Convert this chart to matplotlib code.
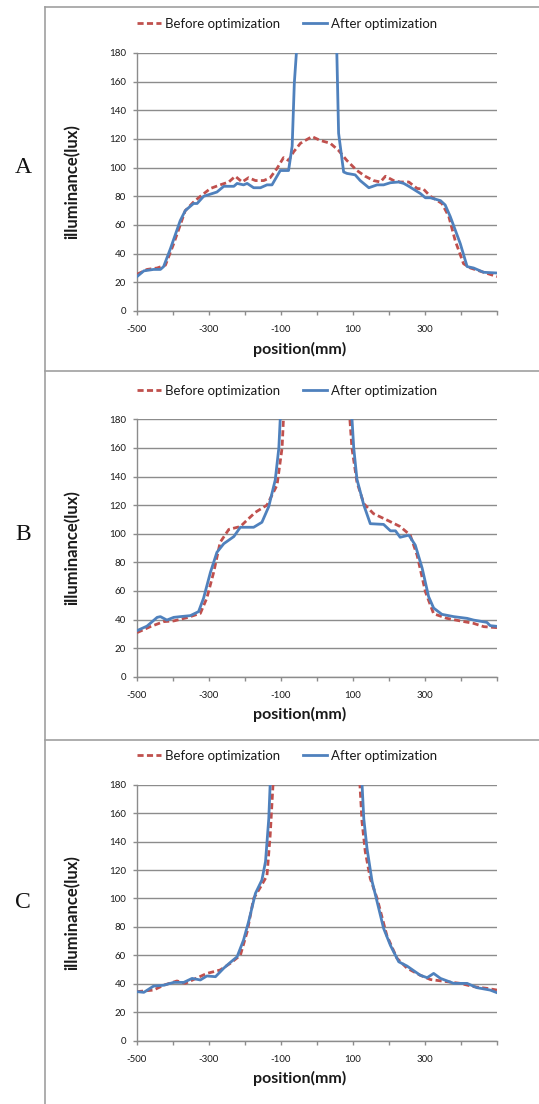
import matplotlib
matplotlib.use("Agg")
import matplotlib.pyplot as plt
from matplotlib.lines import Line2D
import numpy as np

# ---------------- data ----------------
# Panel A
a_after_x = [-500, -481, -454, -435, -426, -407, -380, -366, -343, -333, -315, -278, -259, -231, -222,
             -204, -194, -176, -157, -139, -125, -102, -79, -69, -63, -57, -55, 0, 53, 55, 60, 74, 83,
             106, 120, 144, 167, 185, 204, 227, 241, 255, 287, 301, 315, 343, 356, 370, 398, 417,
             435, 463, 500]
a_after_y = [24, 28, 29, 29, 31, 43.6, 63, 70, 75, 75, 80, 83, 87, 87, 89,
             88, 89, 86, 86, 88, 88, 98, 98, 115, 159, 181, 350, 400, 350, 181, 124, 97, 96,
             95, 91, 86, 88, 88, 89.5, 90, 89, 87, 82, 79, 79, 77, 74, 66, 47, 31,
             30, 27, 26.5]
a_before_x = [-500, -472, -444, -421, -398, -366, -343, -324, -296, -269, -245, -227, -208, -190, -171,
              -148, -130, -111, -93, -79, -65, -46, -14, 9, 37, 60, 83, 111, 134, 157, 176, 190,
              213, 231, 255, 278, 296, 315, 347, 366, 384, 407, 426, 463, 500]
a_before_y = [25.6, 29, 30, 32, 47, 70, 76, 80, 85.5, 88, 90, 94, 90, 93, 91,
              91, 93, 99.5, 107, 105, 111, 117, 121.7, 119, 117, 112, 105, 98, 94, 91, 90, 94,
              91, 90, 90, 85.5, 85, 80, 75, 66, 49, 33, 30, 27, 24]

# Panel B
b_after_x = [-500, -472, -444, -435, -417, -398, -380, -352, -329, -315, -296, -278, -259, -231, -213,
             -176, -153, -134, -116, -106, -102, -95, 0, 93, 97, 102, 111, 130, 148, 185, 204, 218,
             231, 255, 273, 292, 310, 324, 347, 380, 417, 435, 472, 481, 500]
b_after_y = [32.2, 35.4, 41.5, 42, 39.6, 41.5, 42, 42.7, 45.5, 55, 73, 87, 93, 98, 104.5,
             104.5, 108, 119, 137.6, 160, 181, 400, 450, 400, 181, 160, 138, 120, 107, 106.5, 102, 102,
             97.5, 99, 92, 76, 56, 48, 43.6, 42, 40.8, 39.6, 38, 35.7, 35.2]
b_before_x = [-500, -463, -426, -398, -361, -324, -306, -287, -269, -245, -213, -194, -171, -139, -111,
              -97, -93, -87, 0, 85, 91, 97, 111, 130, 157, 194, 231, 259, 278, 301, 324, 361,
              398, 435, 463, 500]
b_before_y = [30.8, 35, 38.5, 39, 41.3, 44.3, 55, 73, 94, 103, 105, 109.6, 115, 120, 134,
              160, 181, 400, 450, 400, 181, 160, 136, 121, 114, 109.6, 105, 99, 85, 59.5, 44, 40.8,
              39, 37.3, 35, 34.3]

# Panel C
c_after_x = [-500, -481, -454, -426, -398, -370, -347, -324, -306, -282, -259, -241, -222, -204, -190,
             -171, -153, -143, -134, -130, -124, 0, 119, 125, 130, 139, 153, 167, 185, 204, 227,
             250, 287, 306, 324, 343, 380, 417, 444, 481, 500]
c_after_y = [34.5, 34, 38.4, 39, 41, 41, 43.8, 42.7, 45.5, 45, 51, 55, 59, 70.8, 83.7,
             103.6, 113, 126, 156, 181, 400, 450, 400, 181, 156, 135, 112, 97.7, 79, 67, 55.5,
             52.5, 46, 44.3, 47.3, 43.8, 40.3, 40.3, 37.3, 35.6, 33.75]
c_before_x = [-500, -454, -426, -389, -366, -343, -306, -269, -241, -213, -194, -176, -157, -139, -130,
              -122, -116, 0, 113, 119, 125, 134, 148, 167, 194, 222, 250, 287, 315, 361, 398,
              435, 472, 500]
c_before_y = [34.5, 35.6, 39, 42, 40.3, 43, 47.3, 49.7, 54.4, 60, 76.6, 100, 108, 116, 144.6,
              181, 400, 450, 400, 181, 154, 133, 114, 100, 74, 58, 51, 46, 43, 41.5, 40.3,
              38, 36.8, 35.6]

panel_letters = ["A", "B", "C"]
series_names = ["Before optimization", "After optimization"]
x_ticks = [-500, -400, -300, -200, -100, 0, 100, 200, 300, 400, 500]
x_tick_labels = ["-500", "", "-300", "", "-100", "", "100", "", "300", "", ""]
y_ticks = [0, 20, 40, 60, 80, 100, 120, 140, 160, 180]

# ---------------- style ----------------
W, H = 539, 1104
RED = "#C0504D"
BLUE = "#4F81BD"
GRID = "#8C8C8C"
FRAME = "#A0A0A0"

plt.rcParams["font.family"] = ["Lato", "DejaVu Sans"]

fig = plt.figure(figsize=(W / 100, H / 100), dpi=100)

panels = [
    dict(top=53, bottom=311, leg_y=24, let_y=167,
         before=(a_before_x, a_before_y), after=(a_after_x, a_after_y)),
    dict(top=419.3, bottom=676.7, leg_y=390.7, let_y=535,
         before=(b_before_x, b_before_y), after=(b_after_x, b_after_y)),
    dict(top=784.7, bottom=1040.7, leg_y=755.7, let_y=902,
         before=(c_before_x, c_before_y), after=(c_after_x, c_after_y)),
]

left_px, right_px = 137, 497

for letter, p in zip(panel_letters, panels):
    ax = fig.add_axes([left_px / W, 1 - p["bottom"] / H,
                       (right_px - left_px) / W, (p["bottom"] - p["top"]) / H])
    bx, by = p["before"]
    axx, axy = p["after"]
    ax.plot(bx, by, color=RED, lw=2.0, ls=(0, (2.2, 1.2)), label=series_names[0], zorder=3)
    ax.plot(axx, axy, color=BLUE, lw=2.0, ls="-", label=series_names[1], zorder=4)
    ax.set_xlim(-500, 500)
    ax.set_ylim(0, 180)
    ax.set_xticks(x_ticks)
    ax.set_xticklabels(x_tick_labels)
    ax.set_yticks(y_ticks)
    ax.yaxis.grid(True, color=GRID, lw=1.0)
    ax.set_axisbelow(True)
    for s in ["top", "right"]:
        ax.spines[s].set_visible(False)
    for s in ["left", "bottom"]:
        ax.spines[s].set_color(GRID)
        ax.spines[s].set_linewidth(1.0)
    ax.tick_params(axis="both", colors=GRID, length=3, width=1.0, labelcolor="#1a1a1a",
                   labelsize=7)
    ax.tick_params(axis="x", pad=7)
    ax.tick_params(axis="y", pad=5)
    ax.set_xlabel("position(mm)", fontsize=11.5, fontweight="bold", color="#1a1a1a")
    ax.xaxis.set_label_coords((300 - left_px) / (right_px - left_px),
                              -(349 - 311) / 258)
    ax.xaxis.label.set_va("center")
    ax.set_ylabel("illuminance(lux)", fontsize=12, fontweight="bold", color="#1a1a1a")
    ax.yaxis.set_label_coords((72 - left_px) / (right_px - left_px), 0.5)
    ax.yaxis.label.set_va("center")

    leg = ax.legend(loc="center", bbox_to_anchor=(287 / W, 1 - p["leg_y"] / H),
                    bbox_transform=fig.transFigure, ncol=2, frameon=False,
                    fontsize=9.5, handlelength=1.8, handletextpad=0.3, columnspacing=1.8)
    for t in leg.get_texts():
        t.set_color("#1a1a1a")

    fig.text(23 / W, 1 - p["let_y"] / H, letter, family="Liberation Serif",
             fontsize=17, ha="center", va="center", color="#111111")

def fline(x0, y0, x1, y1):
    fig.add_artist(Line2D([x0 / W, x1 / W], [1 - y0 / H, 1 - y1 / H],
                          transform=fig.transFigure, color=FRAME, lw=1.2))

fline(44.5, 6.5, 44.5, H)
fline(44.5, 6.5, W, 6.5)
fline(44.5, 371, W, 371)
fline(44.5, 740, W, 740)

fig.savefig("out.png", dpi=100)
